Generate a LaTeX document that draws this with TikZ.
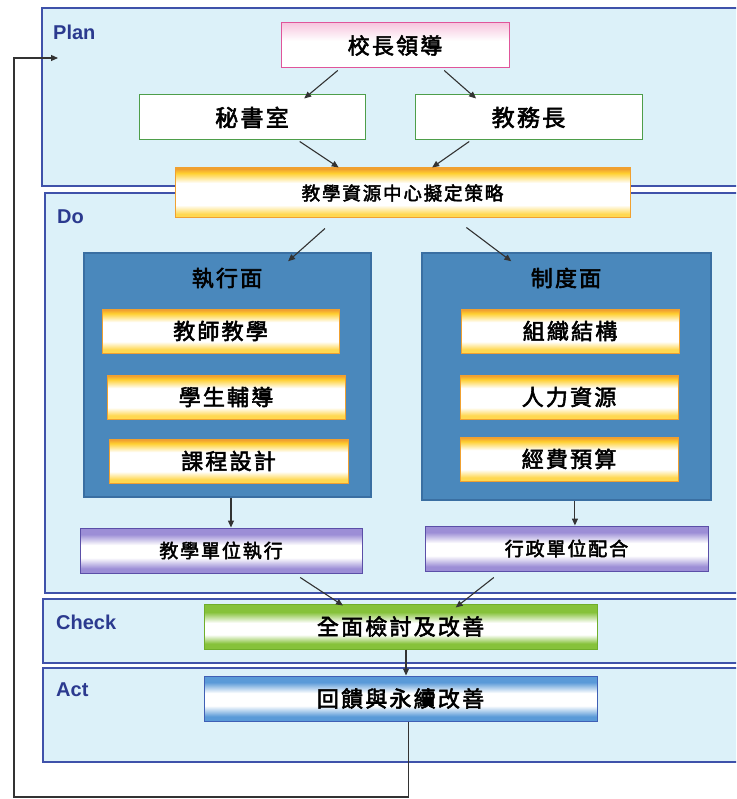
\documentclass[tikz,border=0pt]{standalone}
\usepackage{fontspec}
\setmainfont{Liberation Sans}
\newfontfamily\cjk[LetterSpace=10,FakeBold=2.5]{Noto Sans CJK TC}
\usetikzlibrary{arrows.meta,calc}
\definecolor{panelfill}{HTML}{DCF1F9}
\definecolor{panelline}{HTML}{3F52AA}
\definecolor{labelcol}{HTML}{2B3A8F}
\definecolor{darkfill}{HTML}{4A88BC}
\definecolor{darkline}{HTML}{3A6FA2}
\definecolor{pinkline}{HTML}{E0559A}
\definecolor{greenline}{HTML}{4E9E4A}
\definecolor{orangeline}{HTML}{F0A030}
\definecolor{yeltop}{HTML}{FFCF30}
\definecolor{yelbot}{HTML}{FFD850}
\definecolor{purpline}{HTML}{5B4FA8}
\definecolor{purpfill}{HTML}{9C8ED6}
\definecolor{grnline}{HTML}{6FAE2A}
\definecolor{grnfill}{HTML}{86C23A}
\definecolor{bluline}{HTML}{3F5FB5}
\definecolor{blufill}{HTML}{5A9AD8}
\definecolor{arrcol}{HTML}{333333}
\definecolor{pinktop}{HTML}{F7C6DE}
\pgfdeclareverticalshading{yelshade}{100bp}{color(0bp)=(yelbot); color(25bp)=(yelbot); color(29bp)=(yelbot); color(38bp)=(white); color(60bp)=(white); color(70bp)=(yeltop); color(74bp)=(orangeline); color(100bp)=(orangeline)}
\pgfdeclareverticalshading{purshade}{100bp}{color(0bp)=(purpfill); color(30bp)=(purpfill); color(42bp)=(white); color(56bp)=(white); color(68bp)=(purpfill); color(100bp)=(purpfill)}
\pgfdeclareverticalshading{grnshade}{100bp}{color(0bp)=(grnfill); color(31bp)=(grnfill); color(41bp)=(white); color(54bp)=(white); color(66bp)=(grnfill); color(100bp)=(grnfill)}
\pgfdeclareverticalshading{blushade}{100bp}{color(0bp)=(blufill); color(30bp)=(blufill); color(42bp)=(white); color(56bp)=(white); color(68bp)=(blufill); color(100bp)=(blufill)}
\pgfdeclareverticalshading{pinkshade}{100bp}{color(0bp)=(white); color(55bp)=(white); color(75bp)=(pinktop); color(100bp)=(pinktop)}
\tikzset{
  phase/.style={draw=panelline, line width=1.3pt, fill=panelfill},
  phaselabel/.style={anchor=west, text=labelcol, font=\bfseries\fontsize{20}{20}\selectfont, inner sep=0pt},
  cbox/.style={inner sep=0pt, font=\cjk\fontsize{22}{22}\selectfont, text=black},
  strattext/.style={font=\cjk\fontsize{18.5}{18.5}\selectfont},
  unittext/.style={font=\cjk\fontsize{19}{19}\selectfont},
  leadbox/.style={cbox, draw=pinkline, line width=1pt, shading=pinkshade},
  gbox/.style={cbox, draw=greenline, line width=1pt, fill=white, font=\cjk\fontsize{23}{23}\selectfont},
  ybox/.style={cbox, draw=orangeline, line width=1pt, shading=yelshade},
  darkpanel/.style={draw=darkline, line width=1.5pt, fill=darkfill},
  pbox/.style={cbox, draw=purpline, line width=1pt, shading=purshade},
  grbox/.style={cbox, draw=grnline, line width=1pt, shading=grnshade},
  blbox/.style={cbox, draw=bluline, line width=1pt, shading=blushade},
  arr/.style={draw=arrcol, line width=1.1pt, -{Triangle[length=7pt,width=6pt]}}
}
\begin{document}
\begin{tikzpicture}[x=1pt,y=-1pt]
\useasboundingbox (0,0) rectangle (736,799);
\clip (0,0) rectangle (736,799);
\fill[white] (0,0) rectangle (736,799);
% phase panels
\draw[phase] (42,8) rectangle (746,186);
\draw[phase] (45,193) rectangle (746,593);
\draw[phase] (43,599) rectangle (746,663);
\draw[phase] (43,668) rectangle (746,762);
\node[phaselabel] (lplan) at (53,32) {Plan};
\node[phaselabel] (ldo) at (57,217) {Do};
\node[phaselabel] (lcheck) at (56,622) {Check};
\node[phaselabel] (lact) at (56,690) {Act};
% plan
\node[leadbox, minimum width=228pt, minimum height=45pt] (lead) at (395,45.5) {校長領導};
\node[gbox, minimum width=226pt, minimum height=45pt] (sec) at (252,117.5) {秘書室};
\node[gbox, minimum width=227pt, minimum height=45pt] (dean) at (528.5,117.5) {教務長};
\node[ybox, strattext, minimum width=455pt, minimum height=50pt] (strat) at (402.5,193) {教學資源中心擬定策略};
% do
\node[darkpanel, minimum width=287pt, minimum height=244pt] (exe) at (227.5,375) {};
\node[darkpanel, minimum width=289pt, minimum height=247pt] (sys) at (566.5,376.5) {};
\node[cbox] (exeT) at (227,278) {執行面};
\node[cbox] (sysT) at (566,278) {制度面};
\node[ybox, minimum width=237pt, minimum height=44pt] (t1) at (220.5,331) {教師教學};
\node[ybox, minimum width=238pt, minimum height=44pt] (t2) at (226,397) {學生輔導};
\node[ybox, minimum width=239pt, minimum height=44pt] (t3) at (228.5,461) {課程設計};
\node[ybox, minimum width=218pt, minimum height=44pt] (s1) at (570,331) {組織結構};
\node[ybox, minimum width=218pt, minimum height=44pt] (s2) at (569,397) {人力資源};
\node[ybox, minimum width=218pt, minimum height=44pt] (s3) at (569,459) {經費預算};
\node[pbox, unittext, minimum width=282pt, minimum height=45pt] (unitA) at (221,550.5) {教學單位執行};
\node[pbox, unittext, minimum width=283pt, minimum height=45pt] (unitB) at (566.5,548.5) {行政單位配合};
% check / act
\node[grbox, minimum width=393pt, minimum height=45pt] (check) at (400.5,626.5) {全面檢討及改善};
\node[blbox, minimum width=393pt, minimum height=45pt] (act) at (400.5,698.5) {回饋與永續改善};
% connectors
\draw[arr] ($(lead.south west)!0.25!(lead.south east)+(0,2)$) -- ($(sec.north west)!0.73!(sec.north east)+(0,4)$);
\draw[arr] ($(lead.south west)!0.715!(lead.south east)+(0,2)$) -- ($(dean.north west)!0.27!(dean.north east)+(0,4)$);
\draw[arr] ($(sec.south west)!0.71!(sec.south east)+(0,1)$) -- ($(strat.north west)!0.36!(strat.north east)$);
\draw[arr] ($(dean.south west)!0.24!(dean.south east)+(0,1)$) -- ($(strat.north west)!0.565!(strat.north east)$);
\draw[arr] ($(strat.south west)!0.33!(strat.south east)+(0,10)$) -- ($(exe.north west)!0.71!(exe.north east)+(0,9)$);
\draw[arr] ($(strat.south west)!0.64!(strat.south east)+(0,9)$) -- ($(sys.north west)!0.31!(sys.north east)+(0,9)$);
\draw[arr] ($(exe.south west)!0.512!(exe.south east)$) coordinate (a1) -- (a1 |- unitA.north);
\draw[arr] ($(sys.south west)!0.529!(sys.south east)$) coordinate (a2) -- (a2 |- unitB.north);
\draw[arr] ($(unitA.south west)!0.78!(unitA.south east)+(0,4)$) -- ($(check.north west)!0.354!(check.north east)+(0,2)$);
\draw[arr] ($(unitB.south west)!0.244!(unitB.south east)+(0,6)$) -- ($(check.north west)!0.64!(check.north east)+(0,4)$);
\draw[arr] ($(check.south west)!0.514!(check.south east)$) coordinate (a3) -- (a3 |- act.north);
\coordinate (fbend) at (58,58);
\draw[arr] ($(act.south west)!0.52!(act.south east)$) coordinate (fb0) -- (fb0 |- 0,797) -- (14,797) -- (14,58) -- (fbend);
\end{tikzpicture}
\end{document}
